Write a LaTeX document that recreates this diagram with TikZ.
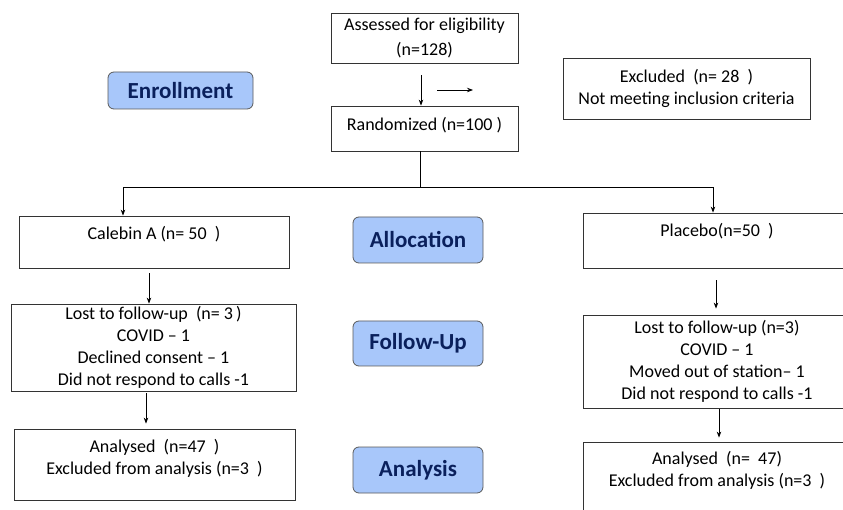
\documentclass[tikz,border=0pt]{standalone}
\usepackage{fontspec}
\setmainfont{Carlito}
\usetikzlibrary{arrows.meta}
\definecolor{phasefill}{RGB}{168,199,250}
\definecolor{phasetext}{RGB}{10,32,92}
\definecolor{phaseline}{RGB}{90,90,90}
\begin{document}
\begin{tikzpicture}[
    x = 1pt,
    y = -1pt,
    >={Stealth[length=6pt,width=4.5pt]},
    box/.style = {draw=black!80, line width=0.8pt, inner sep=0pt,
    align=center, font=\fontsize{18}{22}\selectfont},
    phase/.style = {draw=phaseline, fill=phasefill, rounded corners=6pt,
    line width=0.8pt, inner sep=0pt, minimum width=130, text=phasetext,
    font=\fontsize{23}{25}\selectfont\bfseries},
    arr/.style = {->, line width=0.8pt},
]

\clip (0,0) rectangle (843,510);
\fill[white] (0,0) rectangle (843,510);

% enrollment
\node[box, minimum width=187, minimum height=50] (assess) at (424.5,38)
    {Assessed for eligibility\\[3pt](n=128)};
\node[box, minimum width=187, minimum height=45] (random) at (424.5,128.5)
    {\raisebox{10pt}{Randomized (n=100\ )}};
\node[box, minimum width=247, minimum height=61] (exclud) at (686.5,88.5)
    {Excluded\ \ (n= 28\ \ )\\Not meeting inclusion criteria};
\node[phase, minimum width=145, minimum height=37] (enrol) at (180.5,90.5) {Enrollment};

% allocation
\node[box, minimum width=270, minimum height=52] (calebin) at (154,242)
    {Calebin A (n= 50\ \ )\\[-10pt]\strut};
\node[box, minimum width=268, minimum height=55] (placebo) at (717,240.5)
    {Placebo(n=50\ \ )\\[-8pt]\strut};
\node[phase, minimum height=46] (alloc) at (418,240) {Allocation};

% follow-up
\node[box, minimum width=285, minimum height=87] (lostA) at (153.5,347.5)
    {Lost to follow-up\ \ (n= 3\,)\\COVID -- 1\\Declined consent -- 1\\Did not respond to calls -1};
\node[box, minimum width=268, minimum height=93] (lostB) at (717,361.5)
    {Lost to follow-up (n=3)\\COVID -- 1\\Moved out of station-- 1\\Did not respond to calls -1};
\node[phase, minimum height=45] (follow) at (418,343.5) {Follow-Up};

% analysis
\node[box, minimum width=281, minimum height=71] (analA) at (154.5,464.5)
    {Analysed\ \ (n=47\ \ )\\Excluded from analysis (n=3\ \ )\\[-14pt]\strut};
\node[box, minimum width=268, minimum height=76] (analB) at (717,480)
    {Analysed\ \ (n=\ \ 47)\\Excluded from analysis (n=3\ \ )\\[-6pt]\strut};
\node[phase, minimum height=46] (analys) at (418,470) {Analysis};

\coordinate (ex_0) at (437,90);
\coordinate (ex_1) at (473,90);
\coordinate (split) at (420,187);

\draw [arr, shorten <=12pt] ([xshift=-3.5pt]assess.south) -- ([xshift=-3.5pt]random.north);
\draw [arr] (ex_0) -- (ex_1);
\draw [line width=0.8pt] (random.south -| split) -- (split);
\draw [arr] (split) -| ([xshift=-31pt]calebin.north);
\draw [arr] (split) -| ([xshift=-4pt]placebo.north);
\draw [arr, shorten <=5pt] ([xshift=-5pt]calebin.south) -- ([xshift=-5pt]calebin.south |- lostA.north);
\draw [arr, shorten <=12pt, shorten >=6pt] ([xshift=-1pt]placebo.south) -- ([xshift=-1pt]placebo.south |- lostB.north);
\draw [arr, shorten <=2pt, shorten >=5pt] ([xshift=-7.5pt]lostA.south) -- ([xshift=-7.5pt]lostA.south |- analA.north);
\draw [arr, shorten <=1pt, shorten >=4pt] ([xshift=2pt]lostB.south) -- ([xshift=2pt]lostB.south |- analB.north);

\end{tikzpicture}
\end{document}
